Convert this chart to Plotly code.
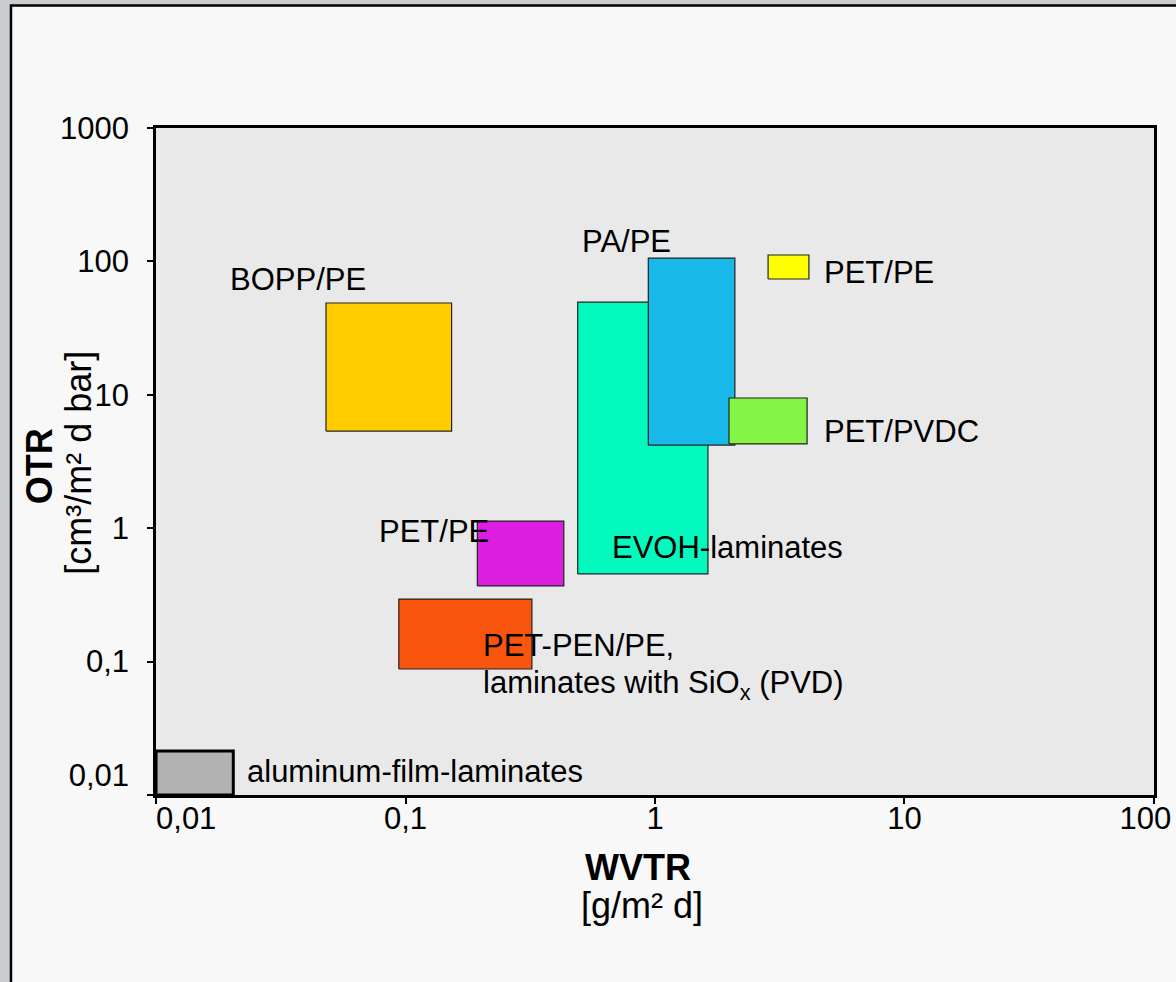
import numpy as np
import plotly.graph_objects as go

# ---- data ----
materials = ["aluminum-film-laminates", "BOPP/PE", "EVOH-laminates", "PA/PE",
             "PET/PVDC", "PET/PE (top)", "PET/PE", "PET-PEN/PE, SiOx"]
wvtr_min = [0.0100, 0.048, 0.49, 0.94, 1.98, 2.84, 0.194, 0.094]
wvtr_max = [0.0204, 0.153, 1.63, 2.09, 4.07, 4.14, 0.431, 0.321]
otr_min = [0.0100, 5.35, 0.454, 4.2, 4.28, 73.8, 0.369, 0.088]
otr_max = [0.0214, 48.8, 49.6, 106.0, 9.46, 111.7, 1.13, 0.294]
colors = ["#b3b3b3", "#ffcc00", "#04f9be", "#18b8e8", "#84f544",
          "#ffff00", "#dc1ee0", "#f8560e"]
border_w = [3, 1.2, 1.2, 1.2, 1.2, 1.2, 1.2, 1.2]

NB = "\u00a0"
x_tickvals = [0.01, 0.1, 1, 10, 100]
x_ticktext = [NB * 7 + "0,01", "0,1", "1", "10", "100" + NB * 2]
y_tickvals = [0.01, 0.1, 1, 10, 100, 1000]
y_ticktext = ["0,01<br>" + NB, "0,1", "1", "10", "100", "1000"]

label_text = ["BOPP/PE", "PA/PE", "PET/PE", "PET/PVDC", "PET/PE", "EVOH-laminates",
              "PET-PEN/PE,", "laminates with SiO<sub>x</sub> (PVD)",
              "aluminum-film-laminates"]
label_x = [0.0194, 0.50, 4.67, 4.67, 0.0769, 0.661, 0.201, 0.201, 0.0228]
label_y = [73.8, 142, 83.3, 5.35, 0.938, 0.711, 0.133, 0.0668, 0.01487]

FONT = "Liberation Sans, Arial, sans-serif"

fig = go.Figure()
for i, name in enumerate(materials):
    x0, x1 = wvtr_min[i], wvtr_max[i]
    y0, y1 = otr_min[i], otr_max[i]
    fig.add_trace(go.Scatter(
        x=[x0, x1, x1, x0, x0], y=[y0, y0, y1, y1, y0],
        mode="lines", fill="toself", fillcolor=colors[i],
        line=dict(color="#222222" if border_w[i] < 2 else "#000000", width=border_w[i]),
        name=name, hoverinfo="skip", showlegend=False))

annotations = []
for t, lx, ly in zip(label_text, label_x, label_y):
    annotations.append(dict(
        x=np.log10(lx), y=np.log10(ly), xref="x", yref="y", text=t,
        showarrow=False, xanchor="left", yanchor="middle",
        font=dict(family=FONT, size=31, color="#000000")))

# axis titles
annotations += [
    dict(x=0.483, y=-0.109, xref="paper", yref="paper", text="<b>WVTR</b>",
         showarrow=False, xanchor="center", yanchor="middle",
         font=dict(family=FONT, size=36, color="#000")),
    dict(x=0.487, y=-0.166, xref="paper", yref="paper", text="[g/m² d]",
         showarrow=False, xanchor="center", yanchor="middle",
         font=dict(family=FONT, size=36, color="#000")),
    dict(x=-0.1172, y=0.493, xref="paper", yref="paper", text="<b>OTR</b>",
         showarrow=False, xanchor="center", yanchor="middle", textangle=-90,
         font=dict(family=FONT, size=36, color="#000")),
    dict(x=-0.0772, y=0.498, xref="paper", yref="paper", text="[cm³/m² d bar]",
         showarrow=False, xanchor="center", yanchor="middle", textangle=-90,
         font=dict(family=FONT, size=36, color="#000")),
]

shapes = [
    # outer page frame
    dict(type="rect", xref="paper", yref="paper", x0=-0.1453, x1=1.05,
         y0=-0.33, y1=1.1837, fillcolor="#f8f8f8",
         line=dict(color="#000000", width=2.5), layer="below"),
    # plot-area background
    dict(type="rect", xref="paper", yref="paper", x0=0, x1=1, y0=0, y1=1,
         fillcolor="#e9e9e9", line=dict(width=0), layer="below"),
]

axis_common = dict(type="log", showgrid=False, zeroline=False, showline=True,
                   linecolor="#000000", linewidth=2.5, mirror=True,
                   ticks="outside", ticklen=6, tickwidth=1.5, tickcolor="#000",
                   ticklabeloverflow="allow", automargin=False,
                   tickfont=dict(family=FONT, size=31, color="#000"))

fig.update_layout(
    width=1176, height=982, autosize=False,
    margin=dict(l=156, r=22, t=128, b=187, pad=0, autoexpand=False),
    paper_bgcolor="#c9cdd0", plot_bgcolor="rgba(0,0,0,0)",
    xaxis=dict(range=[-2.0002, 2.0002], tickvals=x_tickvals, ticktext=x_ticktext,
               ticklabelstandoff=-12, **axis_common),
    yaxis=dict(range=[-2.0002, 3.0002], tickvals=y_tickvals, ticktext=y_ticktext,
               ticklabelstandoff=12, **axis_common),
    annotations=annotations, shapes=shapes,
    showlegend=False,
)

fig.write_html("out.html", config={"displayModeBar": False},
               post_script="document.body.style.margin='0';document.body.style.overflow='hidden';")
